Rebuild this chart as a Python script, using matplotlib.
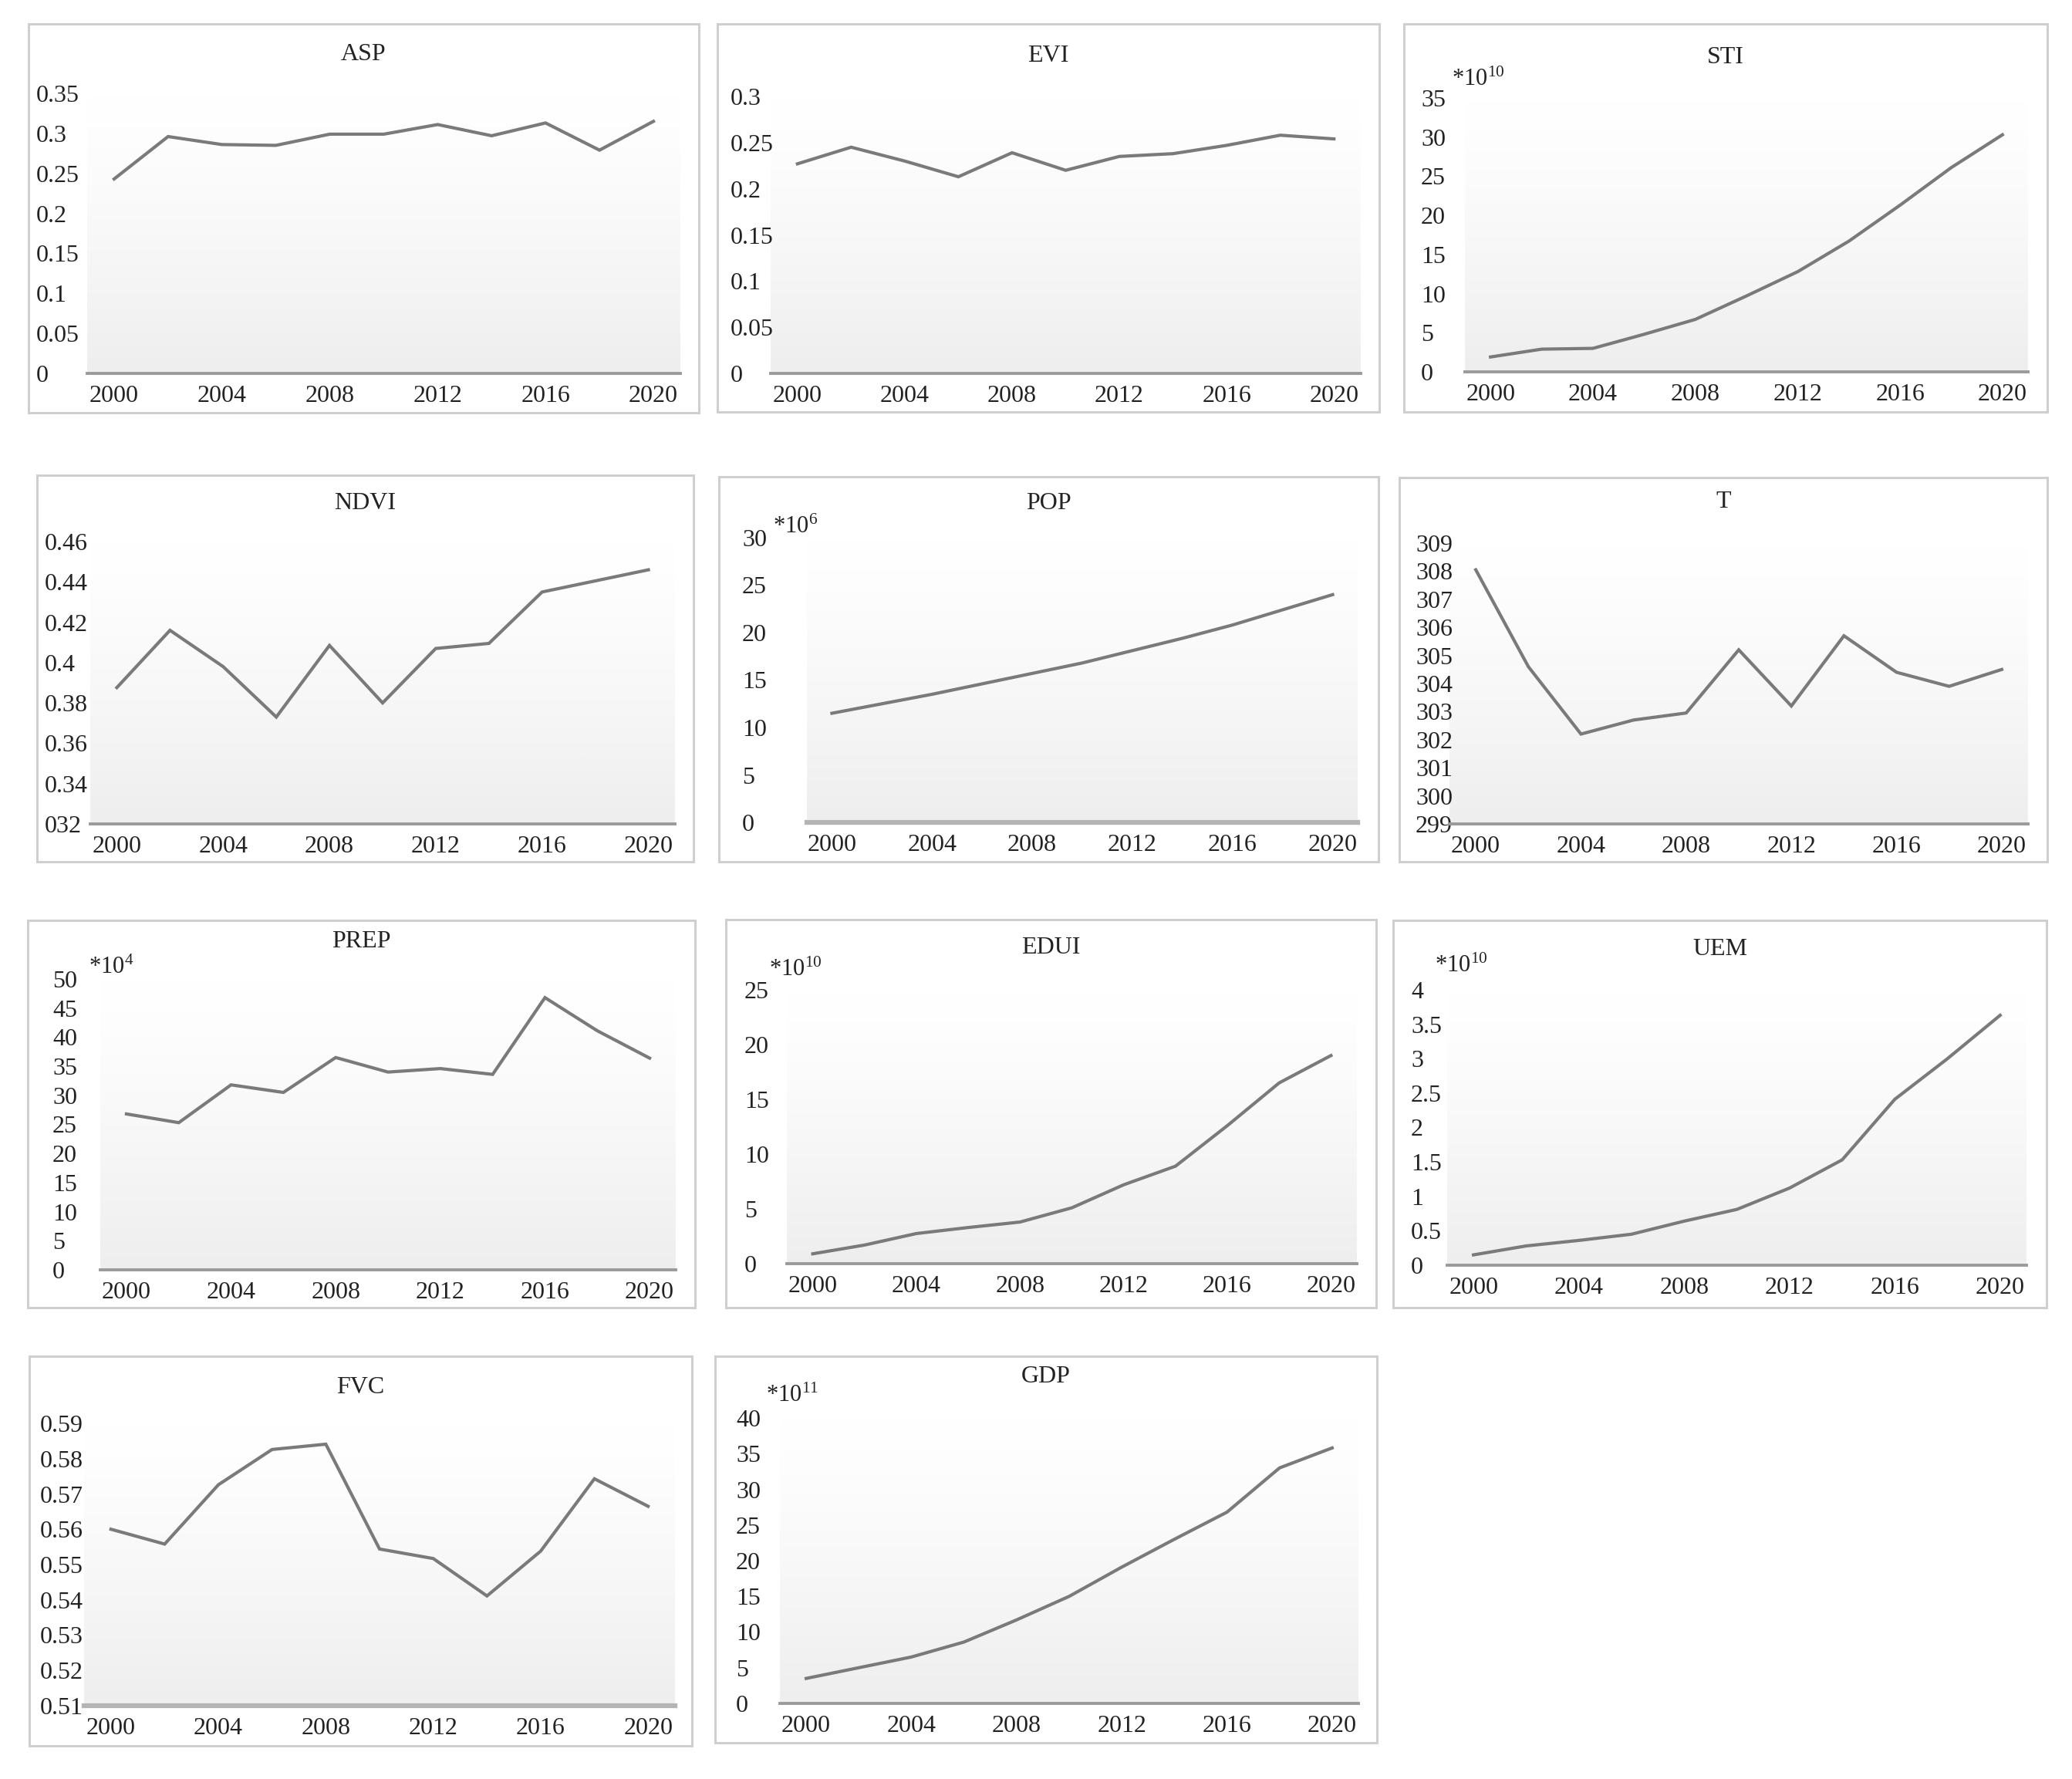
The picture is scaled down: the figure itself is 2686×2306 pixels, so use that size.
import numpy as np
import matplotlib
matplotlib.use("Agg")
import matplotlib.pyplot as plt
from matplotlib.patches import Rectangle
from matplotlib.colors import LinearSegmentedColormap

plt.rcParams['font.family'] = ['Liberation Serif', 'DejaVu Serif']
plt.rcParams['mathtext.fontset'] = 'custom'
plt.rcParams['mathtext.rm'] = 'Liberation Serif'
plt.rcParams['mathtext.it'] = 'Liberation Serif'

# ---------------- data ----------------
years = [2000, 2002, 2004, 2006, 2008, 2010, 2012, 2014, 2016, 2018, 2020]
year_ticks = [2000, 2004, 2008, 2012, 2016, 2020]

asp = [0.243, 0.296, 0.286, 0.285, 0.299, 0.299, 0.311, 0.297, 0.313, 0.279, 0.315]
evi = [0.227, 0.245, 0.230, 0.213, 0.239, 0.220, 0.235, 0.238, 0.247, 0.258, 0.254]
sti = [1.9, 2.9, 3.0, 4.8, 6.7, 9.7, 12.8, 16.7, 21.3, 26.1, 30.3]
ndvi = [0.3876, 0.416, 0.398, 0.373, 0.4085, 0.380, 0.407, 0.4095, 0.435, 0.4405, 0.446]
pop = [11.5, 12.5, 13.5, 14.6, 15.7, 16.8, 18.1, 19.4, 20.8, 22.4, 24.0]
temp = [308.05, 304.6, 302.2, 302.7, 302.95, 305.2, 303.2, 305.7, 304.4, 303.9, 304.5]
prep = [26.8, 25.3, 31.8, 30.5, 36.5, 34.0, 34.6, 33.6, 46.8, 41.1, 36.4]
edui = [0.9, 1.7, 2.75, 3.3, 3.8, 5.1, 7.2, 8.9, 12.6, 16.5, 19.0]
uem = [0.15, 0.28, 0.36, 0.45, 0.64, 0.81, 1.12, 1.53, 2.41, 3.0, 3.63]
fvc = [0.560, 0.5558, 0.5726, 0.5826, 0.5841, 0.5544, 0.5517, 0.5411, 0.5538, 0.5743, 0.5665]
gdp = [3.5, 5.0, 6.5, 8.6, 11.7, 15.0, 19.1, 23.0, 26.8, 33.0, 35.8]

asp_ticks = [0, 0.05, 0.1, 0.15, 0.2, 0.25, 0.3, 0.35]
asp_labels = ["0", "0.05", "0.1", "0.15", "0.2", "0.25", "0.3", "0.35"]
evi_ticks = [0, 0.05, 0.1, 0.15, 0.2, 0.25, 0.3]
evi_labels = ["0", "0.05", "0.1", "0.15", "0.2", "0.25", "0.3"]
sti_ticks = [0, 5, 10, 15, 20, 25, 30, 35]
ndvi_ticks = [0.32, 0.34, 0.36, 0.38, 0.40, 0.42, 0.44, 0.46]
ndvi_labels = ["032", "0.34", "0.36", "0.38", "0.4", "0.42", "0.44", "0.46"]
pop_ticks = [0, 5, 10, 15, 20, 25, 30]
t_ticks = [299, 300, 301, 302, 303, 304, 305, 306, 307, 308, 309]
prep_ticks = [0, 5, 10, 15, 20, 25, 30, 35, 40, 45, 50]
edui_ticks = [0, 5, 10, 15, 20, 25]
uem_ticks = [0, 0.5, 1, 1.5, 2, 2.5, 3, 3.5, 4]
uem_labels = ["0", "0.5", "1", "1.5", "2", "2.5", "3", "3.5", "4"]
fvc_ticks = [0.51, 0.52, 0.53, 0.54, 0.55, 0.56, 0.57, 0.58, 0.59]
fvc_labels = ["0.51", "0.52", "0.53", "0.54", "0.55", "0.56", "0.57", "0.58", "0.59"]
gdp_ticks = [0, 5, 10, 15, 20, 25, 30, 35, 40]

titles = ["ASP", "EVI", "STI", "NDVI", "POP", "T", "PREP", "EDUI", "UEM", "FVC", "GDP"]
series = [asp, evi, sti, ndvi, pop, temp, prep, edui, uem, fvc, gdp]
ticks = [asp_ticks, evi_ticks, sti_ticks, ndvi_ticks, pop_ticks, t_ticks,
         prep_ticks, edui_ticks, uem_ticks, fvc_ticks, gdp_ticks]
tick_labels = [asp_labels, evi_labels, None, ndvi_labels, None, None,
               None, None, uem_labels, fvc_labels, None]
exponents = [None, None, "10", None, "6", None, "4", "10", "10", None, "11"]

# ---------------- layout (pixels) ----------------
W, H = 2686, 2306
# border box (x0, y0, x1, y1), axes box (x0, ytop, x1, ybottom), ytick label left x,
# title y, exponent label (x, y)
layout = [
    ((37, 31, 906, 535), (113, 121, 882, 484), 47, 71, None),
    ((930, 31, 1788, 534), (999, 125, 1764, 484), 947, 73, None),
    ((1820, 31, 2654, 534), (1899, 127, 2629, 482), 1842, 75, (1882, 103)),
    ((48, 616, 899, 1117), (117, 702, 875, 1068), 58, 652, None),
    ((932, 618, 1787, 1117), (1046, 697, 1760, 1066), 962, 652, (1002, 683)),
    ((1814, 619, 2654, 1117), (1879, 704, 2629, 1068), 1835, 650, None),
    ((36, 1193, 901, 1695), (130, 1269, 876, 1646), 68, 1221, (115, 1254)),
    ((941, 1192, 1784, 1695), (1020, 1283, 1759, 1638), 965, 1228, (997, 1257)),
    ((1806, 1193, 2653, 1695), (1876, 1283, 2627, 1640), 1829, 1230, (1860, 1252)),
    ((38, 1758, 897, 2263), (109, 1845, 875, 2211), 52, 1798, None),
    ((927, 1758, 1785, 2259), (1011, 1838, 1761, 2208), 954, 1785, (993, 1809)),
]

DPI = 100
fig = plt.figure(figsize=(W / DPI, H / DPI), dpi=DPI)
fig.patch.set_facecolor("white")

grad = (np.linspace(0, 1, 256) ** 1.3).reshape(-1, 1)
gcmap = LinearSegmentedColormap.from_list("g", ["#ffffff", "#eeeeee"])

LINE_C = "#7a7a7a"
TXT_C = "#222222"
FS = 23

for i, title in enumerate(titles):
    (bx0, by0, bx1, by1), (ax0, ayt, ax1, ayb), lab_x, title_y, expo = layout[i]
    fig.patches.append(Rectangle((bx0 / W, 1 - by1 / H), (bx1 - bx0) / W, (by1 - by0) / H,
                                 transform=fig.transFigure, fill=False,
                                 edgecolor="#cfcfcf", linewidth=2.2, zorder=0))
    ax = fig.add_axes([ax0 / W, 1 - ayb / H, (ax1 - ax0) / W, (ayb - ayt) / H])
    ax.set_facecolor("none")
    ax.imshow(grad, extent=[0, 1, 0, 1], transform=ax.transAxes, aspect="auto",
              cmap=gcmap, vmin=0, vmax=1, zorder=0, interpolation="bicubic")
    ax.plot(years, series[i], color=LINE_C, linewidth=3.0, solid_joinstyle="miter", zorder=3)
    ax.set_xlim(1999, 2021)
    tk = ticks[i]
    ax.set_ylim(tk[0], tk[-1])
    ax.set_yticks(tk)
    if tick_labels[i] is not None:
        ax.set_yticklabels(tick_labels[i])
    else:
        ax.set_yticklabels([str(v) for v in tk])
    ax.set_xticks(year_ticks)
    ax.set_xticklabels([str(y) for y in year_ticks])
    for s in ("top", "right", "left"):
        ax.spines[s].set_visible(False)
    if title in ("POP", "FVC"):
        ax.spines["bottom"].set_color("#b4b4b4")
        ax.spines["bottom"].set_linewidth(4.5)
    else:
        ax.spines["bottom"].set_color("#9a9a9a")
        ax.spines["bottom"].set_linewidth(2.8)
    pad_pts = (ax0 - lab_x) * 72 / DPI
    ax.tick_params(axis="y", length=0, pad=pad_pts, labelsize=FS, labelcolor=TXT_C)
    ax.tick_params(axis="x", length=0, pad=11, labelsize=FS, labelcolor=TXT_C)
    for lab in ax.get_yticklabels():
        lab.set_horizontalalignment("left")
    fig.text(((bx0 + bx1) / 2) / W, 1 - title_y / H, title, ha="center", va="center",
             fontsize=FS, color=TXT_C)
    if expo is not None:
        fig.text(expo[0] / W, 1 - expo[1] / H, "*10$^{" + exponents[i] + "}$",
                 ha="left", va="center", fontsize=FS - 1, color=TXT_C)

fig.savefig("out.png", dpi=DPI, facecolor="white")
